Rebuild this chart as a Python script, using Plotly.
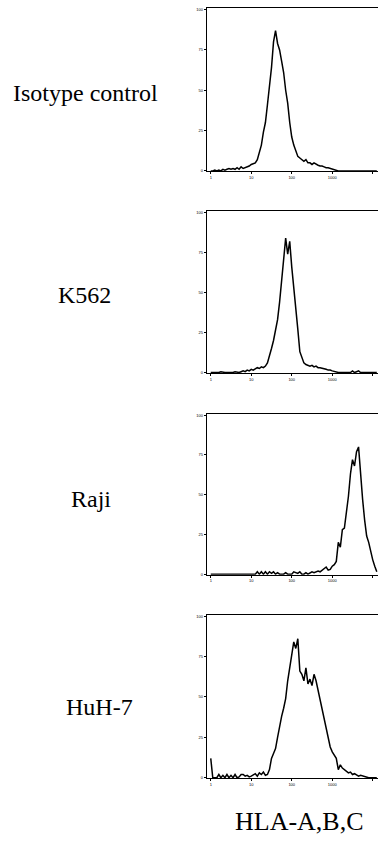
import numpy as np
import plotly.graph_objects as go

# Fluorescence channel grid (log bins, 0.05 decade each, 10^0 .. 10^4.1)
channels = np.logspace(0, 4.1, 83)

# Event counts per channel (relative units, top tick = 100)
iso_counts = [0, 0, 0.5, 0, 0.5, 0, 1, 0.5, 1, 1.5,
              1, 1.5, 1, 2, 1, 2.5, 1.5, 2, 2.5, 3,
              4, 4.5, 5, 7, 12, 16, 24, 30, 41, 52,
              64, 80, 87, 79, 75, 68, 61, 50, 42, 30,
              21, 16, 13, 9, 8, 7, 6, 7, 5, 5,
              4, 5, 4, 3.5, 3, 3, 2.5, 2, 2, 1.5,
              1, 0.5, 0, 0, 0, 0, 0, 0, 0, 0,
              0, 0, 0, 0, 0, 0, 0, 0, 0, 0, 0, 0, 0]

k562_counts = [0, 0, 0, 0, 0, 0.5, 0, 0, 0, 0,
               0, 0, 0.5, 0, 0, 0.5, 1, 0.5, 1.5, 1,
               2, 1.5, 2.5, 3, 2.5, 3.5, 3, 4, 6, 10,
               15, 20, 27, 33, 44, 58, 68, 84, 74, 82,
               66, 54, 42, 27, 13, 9, 6, 5, 4.5, 4,
               4.5, 3.5, 4, 3, 3, 2.5, 2.5, 2, 1.5, 1.5,
               1, 0.5, 0, 0, 0, 0, 0, 0, 0, 0,
               1, 0, 0.5, 1, 0, 0, 0, 0, 0, 0, 0, 0, 0]

raji_counts = [0, 0, 0, 0, 0, 0, 0, 0, 0, 0,
               0, 0, 0, 0, 0, 0, 0, 0, 0, 0,
               0, 0, 0, 1.5, 0, 1.5, 0, 1.5, 0, 1.5,
               0.5, 1.5, 0, 1, 0, 0, 0, 1, 0, 0,
               0, 1.5, 1, 0.5, 1.5, 0, 0, 1, 0, 1,
               1.5, 1, 1.5, 2, 1.5, 2.5, 3, 4.5, 2.5, 3,
               5, 6, 8, 20, 17, 28, 29, 38, 49, 63,
               72, 68, 77, 80, 60, 47, 34, 24, 20, 14, 9, 5, 1.5]

huh7_counts = [12, 0, 0, 0, 2, 0, 1.5, 0, 2, 0,
               1.5, 0, 2, 0, 0.5, 2, 2, 1, 1.5, 0.5,
               1, 2, 2.5, 1, 3, 2, 3.5, 1.5, 2, 5,
               12, 15, 18, 25, 32, 38, 43, 49, 60, 68,
               76, 84, 80, 86, 66, 64, 60, 68, 58, 61,
               57, 64, 60, 54, 49, 43, 36, 30, 23, 19,
               16, 14, 12, 5, 8, 6, 5, 4, 3, 3.5,
               2, 2.5, 2, 1, 1.5, 1, 0.5, 0, 0, 0, 0, 0, 0]

panel_labels = ["Isotype control", "K562", "Raji", "HuH-7"]
x_title = "HLA-A,B,C"
x_tickvals = [1, 10, 100, 1000, 10000]
x_ticktext = ["1", "10", "100", "1000", "10000"]
y_tickvals = [0, 25, 50, 75, 100]
y_ticktext = ["0", "25", "50", "75", "100"]

series = [iso_counts, k562_counts, raji_counts, huh7_counts]

W, H = 378, 842
# panel frames in pixels: (top, bottom)
frames = [(7, 171), (210.7, 373.3), (414, 575.7), (615.7, 780)]
left_px = 206.7
label_pos = [(85, 92), (84, 295), (91, 500), (99, 709)]

fig = go.Figure()
layout = dict(width=W, height=H, margin=dict(l=0, r=0, t=0, b=0),
              paper_bgcolor="white", plot_bgcolor="white", showlegend=False)

annotations = []
for k, (vals, (top, bot), lab, (lx, ly)) in enumerate(zip(series, frames, panel_labels, label_pos), start=1):
    sfx = "" if k == 1 else str(k)
    fig.add_trace(go.Scatter(x=channels, y=vals, mode="lines",
                             line=dict(color="black", width=1.5),
                             xaxis="x" + sfx, yaxis="y" + sfx, hoverinfo="skip"))
    layout["xaxis" + sfx] = dict(domain=[left_px / W, 1.0], type="log", range=[-0.1, 4.13],
                                 anchor="y" + sfx, showline=True, linecolor="black", linewidth=1,
                                 mirror=True, ticks="outside", ticklen=2, tickwidth=1, tickcolor="black",
                                 tickvals=x_tickvals, ticktext=x_ticktext,
                                 tickfont=dict(size=4, color="black", family="Liberation Sans"),
                                 showgrid=False, zeroline=False)
    layout["yaxis" + sfx] = dict(domain=[1 - bot / H, 1 - top / H], range=[-0.3, 101],
                                 anchor="x" + sfx, showline=True, linecolor="black", linewidth=1,
                                 ticks="outside", ticklen=2, tickwidth=1, tickcolor="black",
                                 tickvals=y_tickvals, ticktext=y_ticktext,
                                 tickfont=dict(size=4, color="black", family="Liberation Sans"),
                                 showgrid=False, zeroline=False)
    annotations.append(dict(text=lab, x=lx / W, y=1 - ly / H, xref="paper", yref="paper",
                            xanchor="center", yanchor="middle", showarrow=False,
                            font=dict(family="Liberation Serif", size=24, color="black")))

annotations.append(dict(text=x_title, x=299 / W, y=1 - 823 / H, xref="paper", yref="paper",
                        xanchor="center", yanchor="middle", showarrow=False,
                        font=dict(family="Liberation Serif", size=26, color="black")))
layout["annotations"] = annotations
fig.update_layout(**layout)
fig.write_html("out.html", config={"displayModeBar": False},
               post_script="document.body.style.margin='0';document.body.style.padding='0';")
